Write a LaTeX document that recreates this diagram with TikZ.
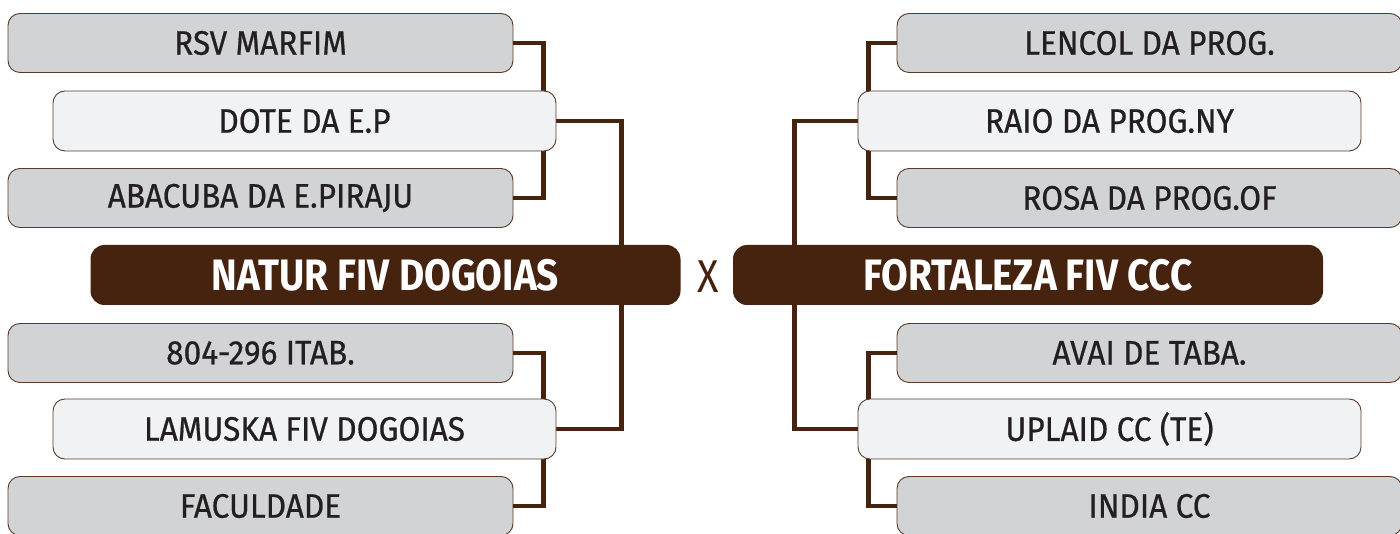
\documentclass[tikz,border=0pt]{standalone}
\usepackage{fontspec}
\newfontfamily\boxfont[FakeBold=0.6,FakeStretch=0.93]{Fira Sans}
\newfontfamily\headfont[FakeStretch=0.88]{Fira Sans}
\newfontfamily\xfont[FakeStretch=0.86]{Fira Sans}
\definecolor{brn}{HTML}{45230F}
\definecolor{edge}{HTML}{5A3A28}
\definecolor{gry}{HTML}{D1D3D4}
\definecolor{lgt}{HTML}{F1F2F4}
\definecolor{txt}{HTML}{231F20}
\tikzset{
  box/.style={draw=edge, line width=0.9pt, rounded corners=12pt, inner sep=0pt,
    minimum width=505pt, minimum height=59pt, text=txt,
    font=\boxfont\fontsize{34}{34}\selectfont},
  outer/.style={box, fill=gry},
  inner/.style={box, fill=lgt, minimum width=503pt, minimum height=60pt},
  head/.style={fill=brn, draw=none, rounded corners=14pt, inner sep=0pt,
    minimum width=590pt, minimum height=60pt, text=white,
    font=\headfont\bfseries\fontsize{44}{44}\selectfont},
  conn/.style={draw=brn, line width=4.5pt},
}
\begin{document}
\begin{tikzpicture}[x=1pt,y=-1pt]
\useasboundingbox (0,0) rectangle (1400,534);
\coordinate (lb1) at (260.5,43);
\coordinate (lb2) at (304.5,121);
\coordinate (lb3) at (260.5,198);
\coordinate (lb4) at (260.5,353);
\coordinate (lb5) at (304.5,429);
\coordinate (lb6) at (260.5,506);
\coordinate (rb1) at (1149.5,43);
\coordinate (rb2) at (1109.5,121);
\coordinate (rb3) at (1149.5,198);
\coordinate (rb4) at (1149.5,353);
\coordinate (rb5) at (1109.5,429);
\coordinate (rb6) at (1149.5,506);

\node[outer] (l1) at (lb1) {RSV MARFIM};
\node[outer] (l3) at (lb3) {ABACUBA DA E.PIRAJU};
\node[outer] (l4) at (lb4) {804-296 ITAB.};
\node[outer] (l6) at (lb6) {FACULDADE};
\node[outer] (r1) at (rb1) {LENCOL DA PROG.};
\node[outer] (r3) at (rb3) {ROSA DA PROG.OF};
\node[outer] (r4) at (rb4) {AVAI DE TABA.};
\node[outer] (r6) at (rb6) {INDIA CC};

% positions of the inner boxes (for connectors), drawn after the connectors
\node[inner, draw=none, fill=none, text opacity=0] (l2) at (lb2) {};
\node[inner, draw=none, fill=none, text opacity=0] (l5) at (lb5) {};
\node[inner, draw=none, fill=none, text opacity=0] (r2) at (rb2) {};
\node[inner, draw=none, fill=none, text opacity=0] (r5) at (rb5) {};

\draw[conn] (l1.east) -- ++(30,0) |- (l3.east);
\draw[conn] (l4.east) -- ++(30,0) |- (l6.east);
\draw[conn] (l2.east) -- ++(65,0) |- (l5.east);
\draw[conn] (r1.west) -- ++(-28,0) |- (r3.west);
\draw[conn] (r4.west) -- ++(-28,0) |- (r6.west);
\draw[conn] (r2.west) -- ++(-63,0) |- (r5.west);

\node[inner] (l2b) at (lb2) {DOTE DA E.P};
\node[inner] (l5b) at (lb5) {LAMUSKA FIV DOGOIAS};
\node[inner] (r2b) at (rb2) {RAIO DA PROG.NY};
\node[inner] (r5b) at (rb5) {UPLAID CC (TE)};

\node[head] (nat) at (385.5,275) {NATUR FIV DOGOIAS};
\node[head] (fort) at (1028,275) {FORTALEZA FIV CCC};
\node[text=brn, font=\xfont\fontsize{46}{46}\selectfont] (vs) at (708,277) {X};
\end{tikzpicture}
\end{document}
